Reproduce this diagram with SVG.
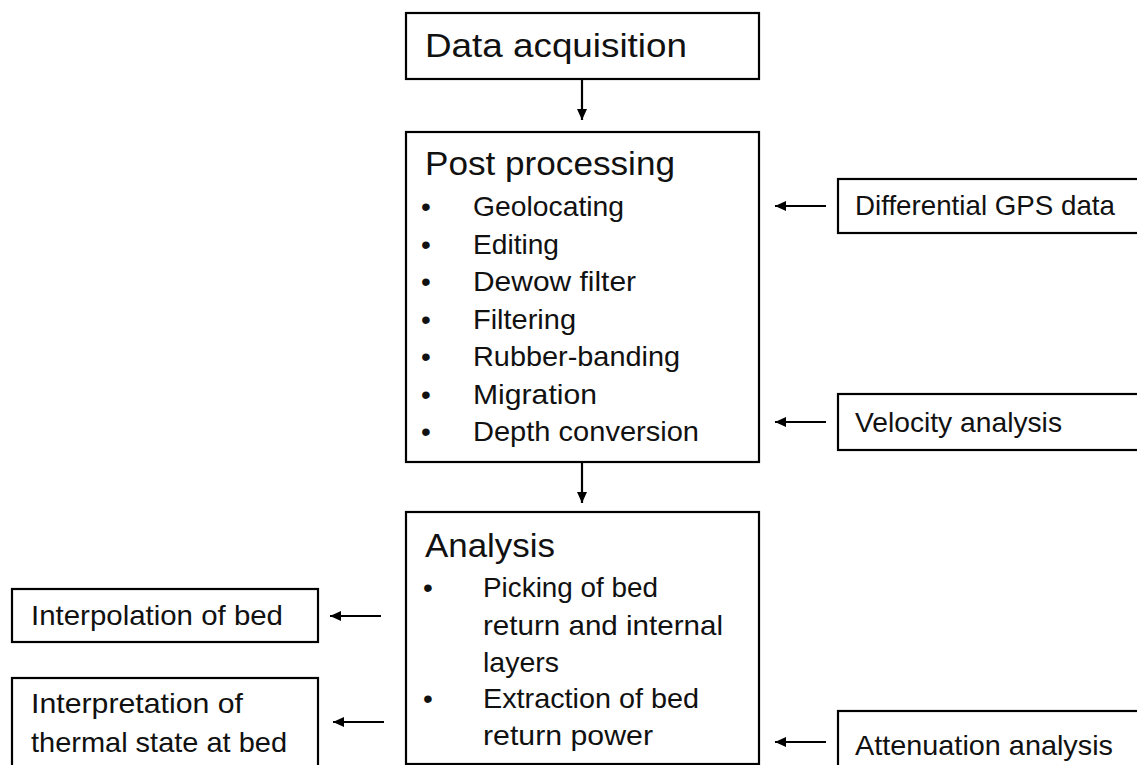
<svg xmlns="http://www.w3.org/2000/svg" width="1137" height="765" viewBox="0 0 1137 765">
<defs>
<style>
.box{fill:#fff;stroke:#000;stroke-width:2.2}
.t{font-family:"Liberation Sans",Arial,sans-serif;fill:#111}
.h{font-size:33px}
.b{font-size:28px}
.c line{stroke:#000;stroke-width:2.2}
</style>
<marker id="ah" markerUnits="userSpaceOnUse" markerWidth="11" markerHeight="10" refX="11" refY="5" orient="auto">
<path d="M0,0 L11,5 L0,10 z" fill="#000"/>
</marker>
</defs>
<rect width="1137" height="765" fill="#fff"/>
<g id="connectors" class="c">
<line x1="582" y1="79" x2="582" y2="120" marker-end="url(#ah)"/>
<line x1="582" y1="462" x2="582" y2="503" marker-end="url(#ah)"/>
<line x1="826" y1="206" x2="775" y2="206" marker-end="url(#ah)"/>
<line x1="826" y1="422" x2="775" y2="422" marker-end="url(#ah)"/>
<line x1="826" y1="742" x2="775" y2="742" marker-end="url(#ah)"/>
<line x1="381" y1="616" x2="330" y2="616" marker-end="url(#ah)"/>
<line x1="384" y1="722" x2="333" y2="722" marker-end="url(#ah)"/>
</g>
<g id="data-acquisition">
<rect class="box" x="406" y="13" width="353" height="66"/>
<text class="t h" x="425" y="57" textLength="262" lengthAdjust="spacingAndGlyphs">Data acquisition</text>
</g>
<g id="post-processing">
<rect class="box" x="406" y="132" width="353" height="330"/>
<text class="t h" x="425" y="175" textLength="250" lengthAdjust="spacingAndGlyphs">Post processing</text>
<g class="t b">
<text x="421" y="216">•</text><text x="473" y="216" textLength="151" lengthAdjust="spacingAndGlyphs">Geolocating</text>
<text x="421" y="253.5">•</text><text x="473" y="253.5" textLength="86" lengthAdjust="spacingAndGlyphs">Editing</text>
<text x="421" y="291">•</text><text x="473" y="291" textLength="163" lengthAdjust="spacingAndGlyphs">Dewow filter</text>
<text x="421" y="328.5">•</text><text x="473" y="328.5" textLength="103" lengthAdjust="spacingAndGlyphs">Filtering</text>
<text x="421" y="366">•</text><text x="473" y="366" textLength="207" lengthAdjust="spacingAndGlyphs">Rubber-banding</text>
<text x="421" y="403.5">•</text><text x="473" y="403.5" textLength="124" lengthAdjust="spacingAndGlyphs">Migration</text>
<text x="421" y="441">•</text><text x="473" y="441" textLength="226" lengthAdjust="spacingAndGlyphs">Depth conversion</text>
</g>
</g>
<g id="analysis">
<rect class="box" x="406" y="512" width="353" height="252"/>
<text class="t h" x="425" y="557" textLength="130" lengthAdjust="spacingAndGlyphs">Analysis</text>
<g class="t b">
<text x="423" y="597">•</text><text x="483" y="597" textLength="175" lengthAdjust="spacingAndGlyphs">Picking of bed</text>
<text x="483" y="635" textLength="240" lengthAdjust="spacingAndGlyphs">return and internal</text>
<text x="483" y="672" textLength="76" lengthAdjust="spacingAndGlyphs">layers</text>
<text x="423" y="708">•</text><text x="483" y="708" textLength="216" lengthAdjust="spacingAndGlyphs">Extraction of bed</text>
<text x="483" y="745" textLength="170" lengthAdjust="spacingAndGlyphs">return power</text>
</g>
</g>
<g id="differential-gps">
<rect class="box" x="838" y="179" width="310" height="54"/>
<text class="t b" x="855" y="215" textLength="260" lengthAdjust="spacingAndGlyphs">Differential GPS data</text>
</g>
<g id="velocity-analysis">
<rect class="box" x="838" y="394" width="310" height="56"/>
<text class="t b" x="855" y="432" textLength="207" lengthAdjust="spacingAndGlyphs">Velocity analysis</text>
</g>
<g id="attenuation-analysis">
<rect class="box" x="838" y="711" width="310" height="70"/>
<text class="t b" x="855" y="755" textLength="258" lengthAdjust="spacingAndGlyphs">Attenuation analysis</text>
</g>
<g id="interpolation-of-bed">
<rect class="box" x="12" y="589" width="306" height="53"/>
<text class="t b" x="31" y="625" textLength="252" lengthAdjust="spacingAndGlyphs">Interpolation of bed</text>
</g>
<g id="interpretation-thermal">
<rect class="box" x="12" y="678" width="306" height="100"/>
<text class="t b" x="31" y="713" textLength="212" lengthAdjust="spacingAndGlyphs">Interpretation of</text>
<text class="t b" x="31" y="752" textLength="256" lengthAdjust="spacingAndGlyphs">thermal state at bed</text>
</g>
</svg>
